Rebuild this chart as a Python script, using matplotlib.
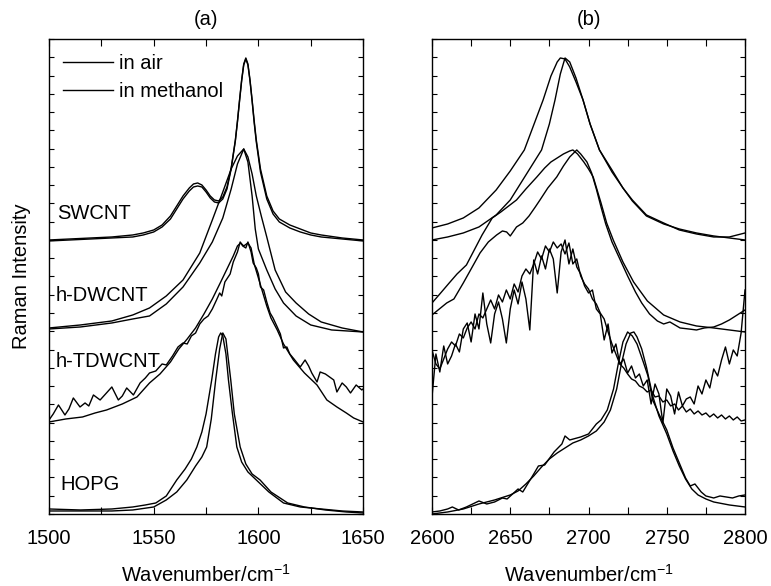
import numpy as np
import matplotlib.pyplot as plt
from matplotlib.ticker import MultipleLocator

plt.rcParams["font.family"] = ["Liberation Sans", "DejaVu Sans"]
plt.rcParams["font.size"] = 14.5

# ---------------- panel (a): G band, 1500-1650 cm-1 ----------------
# SWCNT (air / methanol)
sw_x = [1500, 1510, 1520, 1530, 1540, 1545, 1550, 1554, 1558, 1561, 1564, 1567, 1569, 1571,
        1573, 1575, 1577, 1579, 1581, 1583, 1585, 1587, 1589, 1590, 1591, 1592, 1593, 1594,
        1595, 1596, 1597, 1598, 1599, 1601, 1604, 1607, 1610, 1615, 1620, 1625, 1630, 1640, 1650]
sw_air = [274, 275, 276, 277, 279, 281, 284, 289, 298, 308, 318, 326, 330, 331,
          329, 324, 318, 314, 313, 317, 327, 346, 374, 393, 414, 434, 450, 456,
          450, 434, 414, 393, 374, 345, 318, 303, 295, 289, 285, 281, 279, 276, 274]
sw_meth = [273, 274, 275, 276, 277, 279, 282, 287, 295, 305, 315, 323, 327, 328,
           327, 322, 316, 312, 311, 315, 325, 345, 373, 392, 413, 433, 449, 455,
           449, 433, 413, 391, 372, 342, 315, 300, 292, 286, 282, 279, 277, 275, 273]

# h-DWCNT
dw_a_x = [1500, 1515, 1530, 1540, 1548, 1556, 1564, 1572, 1578, 1583, 1587, 1590, 1593, 1595,
          1597, 1599, 1601.5, 1604, 1608, 1613, 1618, 1624, 1630, 1640, 1650]
dw_a = [186, 189, 193, 199, 206, 218, 234, 261, 294, 322, 345, 358, 365, 357,
        340, 318, 297, 277, 244, 222, 211, 200, 192, 186, 182]
dw_b_x = [1500, 1515, 1530, 1540, 1548, 1556, 1564, 1572, 1578, 1583, 1587, 1590, 1593, 1595,
          1597, 1598.5, 1600, 1604, 1608, 1612, 1618, 1625, 1635, 1650]
dw_b = [185, 187, 191, 195, 198, 210, 227, 251, 272, 296, 325, 350, 365, 352,
        318, 285, 265, 244, 225, 211, 198, 189, 184, 182]

# h-TDWCNT
td_s_x = [1500, 1508, 1516, 1522, 1527.5, 1535, 1542, 1548, 1553, 1558, 1562, 1566, 1570, 1574,
          1578, 1582, 1585, 1588, 1590, 1591.5, 1593, 1595, 1596.5, 1598, 1600, 1602, 1604,
          1606, 1609, 1612, 1616.7, 1622, 1628, 1632.7, 1637.5, 1642, 1645.5, 1650]
td_s = [92, 95, 97, 101, 104, 110, 117, 131, 140, 152, 165, 175, 186, 200,
        215, 232, 245, 258, 268, 271, 268, 271, 266, 250, 236, 222, 208,
        196, 184, 170, 154, 141, 129, 114, 107, 101, 96, 92]
td_n_x = [1500, 1502, 1504.5, 1507.6, 1509.5, 1511.6, 1514.8, 1517.2, 1519, 1521.2, 1524.4, 1527,
          1530, 1533.1, 1535, 1537.1, 1540.3, 1543.5, 1546, 1548, 1551, 1554, 1556, 1559, 1561.6,
          1564, 1566, 1568, 1570, 1572, 1574, 1576, 1578, 1580, 1581.5, 1582.5, 1584, 1586.5,
          1588, 1590, 1591.3, 1592.5, 1594, 1595, 1596.5, 1597.5, 1599, 1600, 1601, 1602.5, 1604,
          1605.6, 1607, 1609, 1610.5, 1612, 1613.6, 1615, 1617, 1620, 1622.3, 1624, 1625.5, 1628,
          1629.5, 1632, 1634, 1636, 1637.5, 1640, 1642, 1644, 1646.7, 1649.4, 1650]
td_n = [94, 100, 109, 99, 105, 116, 107, 111, 108, 119, 114, 120,
        127, 114, 118, 126, 119, 131, 136, 141, 143, 150, 149, 158, 167,
        171, 170, 178, 181, 190, 195, 198, 205, 214, 221, 218, 232, 240,
        252, 262, 272, 268, 266, 272, 262, 251, 246, 240, 227, 224, 212,
        201, 196, 187, 180, 166, 167, 160, 155, 147, 154, 148, 141, 132,
        142, 140, 137, 134, 122, 131, 127, 121, 129, 124, 125]

# HOPG
hg_a_x = [1500, 1515, 1530, 1540, 1546, 1551, 1556, 1561, 1565, 1568, 1570.6, 1573, 1575, 1577.7,
          1579.5, 1581, 1582, 1583, 1584.5, 1585.7, 1587.5, 1589.7, 1592, 1595, 1599, 1605, 1612,
          1620, 1630, 1640, 1650]
hg_a = [5, 4, 5, 7, 9, 11, 18, 34, 45, 55, 67, 82, 100, 134,
        160, 177, 181, 178, 160, 134, 102, 67, 52, 42, 34, 22, 11,
        7, 5, 3, 2]
hg_b_x = [1500, 1515, 1530, 1540, 1550, 1556, 1561, 1565.8, 1570, 1573, 1575.3, 1577.5, 1579.6,
          1581.5, 1583, 1584.5, 1586.8, 1588.5, 1591.3, 1594, 1597, 1600.8, 1606, 1614, 1622,
          1632, 1642, 1650]
hg_b = [3, 3, 3, 4, 7, 14, 22, 34, 48, 57, 67, 95, 134,
        165, 181, 175, 134, 100, 67, 50, 40, 34, 22, 11, 7,
        4, 2, 1]

# ---------------- panel (b): 2D band, 2600-2800 cm-1 ----------------
sw2_a_x = [2600, 2610, 2620, 2630, 2641, 2650, 2659, 2665, 2671, 2676, 2680, 2682, 2685, 2688,
           2692, 2696.5, 2701, 2707, 2715, 2722, 2728, 2737, 2748, 2758, 2769, 2780, 2790, 2800]
sw2_a = [286, 290, 296, 306, 324, 343, 364, 389, 414, 438, 452, 456, 455, 447,
         432, 414, 390, 364, 342, 326, 314, 299, 291, 284, 280, 277, 277, 281]
sw2_b_x = [2600, 2610, 2620, 2630, 2641, 2650, 2654, 2662, 2670, 2675, 2678.6, 2682, 2685, 2688,
           2692, 2696.5, 2701, 2707, 2715, 2722, 2728, 2737, 2748, 2758, 2769, 2780, 2790, 2800]
sw2_b = [274, 277, 281, 287, 299, 314, 324, 344, 364, 390, 414, 440, 456, 452,
         436, 414, 390, 364, 344, 326, 313, 298, 290, 285, 281, 278, 276, 274]

dw2_c_x = [2600, 2605, 2611, 2616, 2622, 2627, 2632, 2638.5, 2644, 2649, 2654, 2660, 2667, 2672,
           2676, 2680, 2684, 2688, 2690, 2693, 2697, 2700, 2703, 2708, 2711.6, 2715.8, 2722,
           2728.8, 2737.6, 2748, 2758.5, 2769, 2780, 2790, 2800]
dw2_c = [211, 220, 231, 240, 249, 264, 279, 296, 302, 308, 314, 325, 337, 346,
         352, 356, 360, 363, 364, 360, 352, 345, 337, 311, 291, 274, 252,
         232, 213, 199, 192, 188, 186, 184, 182]
dw2_d_x = [2600, 2609.4, 2614, 2620, 2625, 2630.7, 2636, 2641.3, 2645, 2647.7, 2650, 2654, 2658,
           2662, 2666, 2669, 2674, 2679.7, 2684, 2688, 2692.5, 2695, 2699, 2702, 2705, 2708, 2711,
           2715, 2720, 2725, 2730, 2734, 2739, 2744, 2748, 2752, 2758.5, 2764, 2769, 2774, 2780,
           2785, 2790, 2795, 2800]
dw2_d = [199, 211, 215, 231, 245, 261, 272, 279, 283, 282, 278, 287, 291,
         298, 307, 314, 326, 337, 348, 357, 364, 360, 352, 341, 325, 307, 290,
         272, 255, 238, 222, 211, 200, 193, 190, 192, 186, 185, 184, 186, 187,
         190, 194, 199, 204]

# h-TDWCNT 2D: sampled every 2.5 cm-1
td2_x = np.arange(2600, 2800.1, 2.5)
td2_a = [117, 160, 142, 168, 150, 158, 170, 162, 185, 191, 172, 200, 185, 221, 190, 171,
         200, 212, 195, 171, 205, 224, 210, 232, 215, 184, 254, 240, 258, 245, 265, 255,
         221, 262, 274, 250, 265, 247, 240, 228, 221, 224, 205, 200, 174, 190, 161, 170,
         150, 155, 141, 148, 136, 140, 128, 134, 110, 130, 120, 91, 125, 118, 100, 122,
         108, 115, 117, 110, 128, 120, 134, 126, 145, 138, 154, 167, 150, 164, 158, 181, 224]
td2_b = [164, 150, 145, 155, 165, 172, 168, 180, 176, 186, 192, 185, 200, 196, 205, 214,
         205, 219, 212, 224, 215, 230, 222, 238, 245, 240, 250, 262, 255, 268, 262, 272,
         266, 270, 260, 271, 250, 255, 238, 230, 225, 215, 210, 201, 195, 182, 170, 160,
         150, 146, 140, 135, 133, 128, 126, 122, 124, 117, 118, 112, 114, 108, 110, 104,
         108, 102, 105, 100, 103, 99, 101, 97, 100, 96, 99, 95, 98, 94, 97, 93, 94]

# HOPG 2D
hg2_a_x = [2600, 2605, 2610, 2613, 2617, 2622, 2630, 2635, 2640, 2645, 2648, 2655, 2658, 2665,
           2668, 2672, 2678, 2683, 2685, 2688, 2695, 2700, 2705, 2708, 2712, 2716, 2719, 2722,
           2725, 2728, 2731, 2735, 2738, 2741, 2745, 2750, 2754, 2758, 2762, 2765, 2768, 2772,
           2775, 2780, 2784, 2788, 2792, 2796, 2800]
hg2_a = [2, 3, 5, 7, 4, 7, 13, 10, 12, 16, 15, 25, 22, 40,
         48, 49, 62, 70, 78, 74, 77, 80, 90, 94, 104, 125, 150, 172,
         182, 178, 170, 152, 138, 114, 100, 84, 66, 51, 36, 28, 30, 22,
         18, 16, 18, 17, 16, 18, 19]
hg2_b_x = [2600, 2610, 2620, 2630, 2640, 2650, 2655, 2660, 2665, 2670, 2675, 2680, 2685, 2690,
           2695, 2700, 2705, 2710, 2714, 2718, 2721, 2724, 2727, 2729, 2731, 2734, 2737, 2741,
           2745, 2750, 2754, 2758, 2762, 2766, 2770, 2775, 2780, 2790, 2800]
hg2_b = [0, 2, 5, 10, 14, 19, 23, 30, 38, 47, 55, 61, 66, 71,
         74, 78, 83, 92, 104, 125, 150, 170, 181, 182, 177, 165, 147, 118,
         98, 80, 63, 48, 35, 25, 19, 15, 12, 9, 7]

sample_labels = ["SWCNT", "h-DWCNT", "h-TDWCNT", "HOPG"]
legend_labels = ["in air", "in methanol"]

# ---------------- figure ----------------
fig = plt.figure(figsize=(7.71, 5.86), dpi=100)
ax1 = fig.add_axes([0.0636, 0.1229, 0.4073, 0.8106])
ax2 = fig.add_axes([0.5603, 0.1229, 0.4060, 0.8106])

lw = 1.0
l1, = ax1.plot(sw_x, sw_air, color="black", lw=lw)
l2, = ax1.plot(sw_x, sw_meth, color="black", lw=lw)
ax1.plot(dw_a_x, dw_a, color="black", lw=lw)
ax1.plot(dw_b_x, dw_b, color="black", lw=lw)
ax1.plot(td_s_x, td_s, color="black", lw=lw)
ax1.plot(td_n_x, td_n, color="black", lw=lw)
ax1.plot(hg_a_x, hg_a, color="black", lw=lw)
ax1.plot(hg_b_x, hg_b, color="black", lw=lw)

ax2.plot(sw2_a_x, sw2_a, color="black", lw=lw)
ax2.plot(sw2_b_x, sw2_b, color="black", lw=lw)
ax2.plot(dw2_c_x, dw2_c, color="black", lw=lw)
ax2.plot(dw2_d_x, dw2_d, color="black", lw=lw)
ax2.plot(td2_x, td2_a, color="black", lw=lw)
ax2.plot(td2_x, td2_b, color="black", lw=lw)
ax2.plot(hg2_a_x, hg2_a, color="black", lw=lw)
ax2.plot(hg2_b_x, hg2_b, color="black", lw=lw)

ax1.set_xlim(1500, 1650)
ax2.set_xlim(2600, 2800)
ax1.xaxis.set_major_locator(MultipleLocator(50))
ax1.xaxis.set_minor_locator(MultipleLocator(25))
ax2.xaxis.set_major_locator(MultipleLocator(50))
ax2.xaxis.set_minor_locator(MultipleLocator(25))

for ax, title in zip((ax1, ax2), ("(a)", "(b)")):
    ax.set_ylim(0, 475)
    ax.yaxis.set_major_locator(MultipleLocator(475 / 26))
    ax.set_yticklabels([])
    ax.tick_params(which="both", direction="in", top=True, right=True, width=0.8)
    ax.tick_params(axis="x", which="both", length=5, pad=11)
    ax.tick_params(axis="y", length=3.5, labelleft=False)
    ax.set_xlabel("Wavenumber/cm$^{\\mathregular{-1}}$", labelpad=11)
    ax.set_title(title, pad=10, fontsize=14.5)
    for s in ax.spines.values():
        s.set_linewidth(1.0)

ax1.set_ylabel("Raman Intensity", labelpad=13)

# sample names inside panel (a)
label_pos = [(0.025, 0.632), (0.021, 0.459), (0.021, 0.322), (0.035, 0.063)]
for name, (px, py) in zip(sample_labels, label_pos):
    ax1.text(px, py, name, transform=ax1.transAxes, ha="left", va="center")

ax1.legend([l1, l2], legend_labels, loc="upper left", bbox_to_anchor=(0.045, 0.968),
           frameon=False, handlelength=2.45, handletextpad=0.3, labelspacing=0.45,
           borderpad=0, borderaxespad=0)

fig.savefig("out.png", dpi=100)
